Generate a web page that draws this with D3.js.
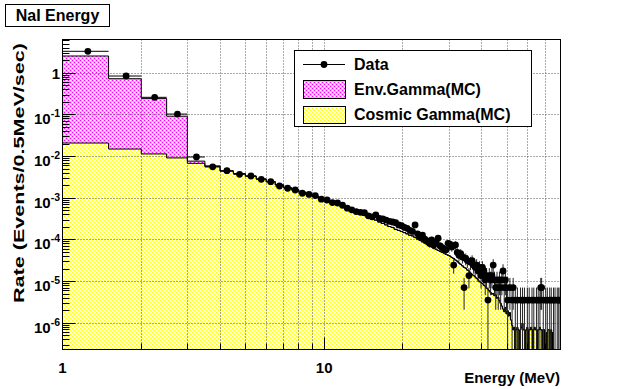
<!DOCTYPE html>
<html>
<head>
<meta charset="utf-8">
<script src="https://cdn.jsdelivr.net/npm/d3@7"></script>
<style>
body { margin: 0; background: #fff; }
svg text { font-family: "Liberation Sans", Arial, sans-serif; font-weight: bold; fill: #000; }
</style>
</head>
<body>
<div id="chart"></div>
<script>
// 0.5 MeV bins from 1 MeV up to 80 MeV
var binStart = 1;
var binWidth = 0.5;
var rateUnit = 3.6e-6; // rate of one counted event in a bin

var dataRate = [
    3.37, 0.86, 0.265, 0.105, 0.0098, 0.0057, 0.0046, 0.00377, 0.00343, 0.00286,
    0.0025, 0.00197, 0.00174, 0.00158, 0.00132, 0.00124, 0.00116, 0.00095, 0.00091, 0.00079,
    0.00077, 0.00068, 0.00058, 0.00053, 0.00048, 0.00046, 0.00045, 0.00038, 0.00036, 0.00040,
    0.00033, 0.00032, 0.00030, 0.00028, 0.00027, 0.00026, 0.00023, 0.00022, 0.00020, 0.00019,
    0.00017, 0.00016, 0.00023, 0.00014, 0.00012, 0.00013, 1.05e-4, 9.5e-5, 8.3e-5, 1.0e-4,
    7.6e-5, 8.8e-5, 1.1e-4, 7.2e-5, 6.5e-5, 6.0e-5, 5.8e-5, 8.3e-5, 7.9e-5, 6.8e-5,
    2.5e-5, 7.6e-5, 5.0e-5, 4.3e-5, 4.7e-5, 3.9e-5, 7.2e-6, 3.6e-5, 3.2e-5, 1.4e-5,
    2.9e-5, 3.2e-5, 2.5e-5, 2.2e-5, 2.5e-5, 1.8e-5, 2.2e-5, 1.4e-5, 2.2e-5, 1.8e-5,
    1.1e-5, 1.4e-5, 3.6e-6, 1.4e-5, 1.1e-5, 1.4e-5, 2.5e-5, 1.1e-5, 7.2e-6, 1.1e-5,
    7.2e-6, 1.1e-5, 7.2e-6, 1.1e-5, 1.8e-5, 7.2e-6, 1.1e-5, 7.2e-6, 3.6e-6, 0,
    7.2e-6, 0, 3.6e-6, 7.2e-6, 0, 3.6e-6, 0, 3.6e-6, 0, 0,
    3.6e-6, 0, 3.6e-6, 0, 3.6e-6, 0, 0, 3.6e-6, 0, 3.6e-6,
    0, 0, 3.6e-6, 0, 3.6e-6, 0, 0, 3.6e-6, 0, 3.6e-6,
    0, 3.6e-6, 7.2e-6, 7.2e-6, 0, 3.6e-6, 0, 0, 3.6e-6, 0,
    3.6e-6, 0, 0, 3.6e-6, 0, 3.6e-6, 0, 0, 3.6e-6, 0,
    3.6e-6, 0, 0, 3.6e-6, 0, 3.6e-6, 0, 3.6e-6
];

var envGamma = [2.58, 0.725, 0.238, 0.084, 0.0009, 0.0003];

var cosmicGamma = [
    0.0212, 0.0152, 0.0116, 0.0093, 0.0069, 0.0057, 0.0045, 0.0039, 0.0034, 0.0029,
    0.0025, 0.0021, 0.0018, 0.0016, 0.0014, 0.00125, 0.00112, 0.00098, 0.00088, 0.00080,
    0.00072, 0.00065, 0.00058, 0.00052, 0.00047, 0.00043, 0.00039, 0.00035, 0.00032, 0.00030,
    0.00027, 0.00025, 0.00023, 0.00021, 0.00020, 0.00018, 0.00017, 0.00016, 0.00015, 0.00014,
    0.00013, 1.25e-4, 1.15e-4, 1.05e-4, 9.8e-5, 9.0e-5, 8.4e-5, 7.8e-5, 7.2e-5, 6.8e-5,
    6.3e-5, 6.0e-5, 5.6e-5, 5.3e-5, 5.0e-5, 4.8e-5, 4.5e-5, 4.3e-5, 4.1e-5, 3.8e-5,
    3.6e-5, 3.3e-5, 3.1e-5, 2.8e-5, 2.6e-5, 2.4e-5, 2.2e-5, 2.1e-5, 1.9e-5, 1.8e-5,
    1.6e-5, 1.5e-5, 1.4e-5, 1.3e-5, 1.2e-5, 1.1e-5, 1.0e-5, 9.5e-6, 9.0e-6, 8.2e-6,
    7.8e-6, 7.0e-6, 6.6e-6, 6.0e-6, 5.5e-6, 5.0e-6, 5.2e-6, 4.6e-6, 4.8e-6, 4.0e-6,
    4.2e-6, 3.5e-6, 3.0e-6, 2.6e-6, 2.2e-6, 1.9e-6, 2.4e-6, 1.7e-6, 2.0e-6, 1.5e-6,
    1.8e-6, 1.2e-6, 9e-7, 7e-7, 8e-7, 0, 7e-7, 8e-7, 7e-7, 0,
    7e-7, 8e-7, 1.0e-6, 7e-7, 7e-7, 0, 7e-7, 8e-7, 0, 7e-7,
    7e-7, 8e-7, 7e-7, 0, 7e-7, 8e-7, 7e-7, 7e-7, 0, 7e-7,
    7e-7, 8e-7, 7e-7, 7e-7, 0, 7e-7, 7e-7, 0, 0, 6e-7,
    0, 7e-7, 7e-7, 0, 6e-7, 7e-7, 0, 6e-7, 0, 0,
    0, 0, 0, 0, 0, 0, 0, 0
];

var xTickLabels = [1, 10];
var yTickLabels = [["1", ""], ["10", "-1"], ["10", "-2"], ["10", "-3"], ["10", "-4"], ["10", "-5"], ["10", "-6"]];
var yTickValues = [1, 1e-1, 1e-2, 1e-3, 1e-4, 1e-5, 1e-6];
var legendNames = ["Data", "Env.Gamma(MC)", "Cosmic Gamma(MC)"];

window.onload = function () {
    var width = 623, height = 389;
    var fLeft = 62.5, fRight = 560.5, fTop = 39.5, fBottom = 349.5;

    var x = d3.scaleLog().domain([1, 80]).range([fLeft, fRight]);
    var y = d3.scaleLog().domain([2.35e-7, 6.47]).range([fBottom, fTop]).clamp(true);

    function yv(v) {
        return v > 0 ? y(v) : fBottom;
    }
    function edge(i) {
        return binStart + binWidth * i;
    }
    function px(v) {
        return Math.round(v - 0.5) + 0.5;
    }

    var svg = d3.select("#chart").append("svg")
        .attr("width", width)
        .attr("height", height);

    svg.append("rect").attr("width", width).attr("height", height).attr("fill", "#fff");

    // dotted fill patterns (ROOT style): pale base, strong dots, white specks
    var defs = svg.append("defs");
    function makePattern(id, base, dot) {
        var p = defs.append("pattern")
            .attr("id", id)
            .attr("patternUnits", "userSpaceOnUse")
            .attr("width", 4)
            .attr("height", 4);
        p.append("rect").attr("width", 4).attr("height", 4).attr("fill", base);
        [[0, 0, dot], [2, 2, dot], [2, 0, "#fff"], [0, 2, "#fff"]].forEach(function (c) {
            p.append("rect").attr("x", c[0]).attr("y", c[1]).attr("width", 1).attr("height", 1).attr("fill", c[2]);
        });
    }
    makePattern("magentaFill", "#f8a8f8", "#ff00ff");
    makePattern("yellowFill", "#ffffa8", "#ffff00");

    defs.append("clipPath").attr("id", "frameClip")
        .append("rect")
        .attr("x", fLeft).attr("y", fTop)
        .attr("width", fRight - fLeft).attr("height", fBottom - fTop);

    var plot = svg.append("g").attr("clip-path", "url(#frameClip)");

    // stack: total = env + cosmic
    var totalRate = cosmicGamma.map(function (c, i) {
        return c + (envGamma[i] || 0);
    });

    function stepPoints(values) {
        var pts = values.map(function (v, i) {
            return { e: edge(i), v: v };
        });
        pts.push({ e: edge(values.length), v: values[values.length - 1] });
        return pts;
    }

    var area = d3.area()
        .curve(d3.curveStepAfter)
        .x(function (d) { return x(d.e); })
        .y0(fBottom)
        .y1(function (d) { return yv(d.v); });

    var outline = d3.line()
        .curve(d3.curveStepAfter)
        .x(function (d) { return x(d.e); })
        .y(function (d) { return yv(d.v); });

    plot.append("path").attr("d", area(stepPoints(totalRate))).attr("fill", "url(#magentaFill)");
    plot.append("path").attr("d", area(stepPoints(cosmicGamma))).attr("fill", "url(#yellowFill)");

    // grid
    var xGrid = [2, 3, 4, 5, 6, 7, 8, 9, 10, 20, 30, 40, 50, 60, 70];
    plot.selectAll(".vgrid").data(xGrid).enter().append("line")
        .attr("x1", function (d) { return px(x(d)); })
        .attr("x2", function (d) { return px(x(d)); })
        .attr("y1", fTop).attr("y2", fBottom)
        .attr("stroke", "#555").attr("stroke-dasharray", "1,2");
    plot.selectAll(".hgrid").data(yTickValues).enter().append("line")
        .attr("x1", fLeft).attr("x2", fRight)
        .attr("y1", function (d) { return px(y(d)); })
        .attr("y2", function (d) { return px(y(d)); })
        .attr("stroke", "#555").attr("stroke-dasharray", "1,2");

    plot.append("path").attr("d", outline(stepPoints(totalRate)))
        .attr("fill", "none").attr("stroke", "#000").attr("stroke-width", 1);
    plot.append("path").attr("d", outline(stepPoints(cosmicGamma)))
        .attr("fill", "none").attr("stroke", "#000").attr("stroke-width", 1);

    // data points with errors
    var dataPts = [];
    dataRate.forEach(function (v, i) {
        if (v > 0) {
            dataPts.push({ lo: edge(i), hi: edge(i + 1), mid: edge(i) + binWidth / 2, v: v, err: Math.sqrt(v * rateUnit) });
        }
    });

    var pts = plot.append("g");
    pts.selectAll(".xerr").data(dataPts).enter().append("line")
        .attr("x1", function (d) { return x(d.lo); })
        .attr("x2", function (d) { return x(d.hi); })
        .attr("y1", function (d) { return y(d.v); })
        .attr("y2", function (d) { return y(d.v); })
        .attr("stroke", "#000");
    pts.selectAll(".yerr").data(dataPts).enter().append("line")
        .attr("x1", function (d) { return x(d.mid); })
        .attr("x2", function (d) { return x(d.mid); })
        .attr("y1", function (d) { return y(d.v + d.err); })
        .attr("y2", function (d) { return d.v - d.err > 0 ? y(d.v - d.err) : fBottom; })
        .attr("stroke", "#222");
    pts.selectAll("circle").data(dataPts).enter().append("circle")
        .attr("cx", function (d) { return x(d.mid); })
        .attr("cy", function (d) { return y(d.v); })
        .attr("r", 3.4)
        .attr("fill", "#000");

    // frame
    svg.append("rect")
        .attr("x", fLeft).attr("y", fTop)
        .attr("width", fRight - fLeft).attr("height", fBottom - fTop)
        .attr("fill", "none").attr("stroke", "#000");

    // ticks
    svg.selectAll(".ytick").data(y.ticks()).enter().append("line")
        .attr("x1", fLeft)
        .attr("x2", function (d) { return yTickValues.indexOf(d) >= 0 ? fLeft + 13 : fLeft + 7; })
        .attr("y1", function (d) { return px(y(d)); })
        .attr("y2", function (d) { return px(y(d)); })
        .attr("stroke", "#000");
    svg.selectAll(".xtick").data(x.ticks()).enter().append("line")
        .attr("x1", function (d) { return px(x(d)); })
        .attr("x2", function (d) { return px(x(d)); })
        .attr("y1", fBottom)
        .attr("y2", function (d) { return d == 10 ? fBottom - 12 : fBottom - 6; })
        .attr("stroke", "#000");

    // tick labels
    svg.selectAll(".xlab").data(xTickLabels).enter().append("text")
        .attr("x", function (d) { return x(d); })
        .attr("y", 373)
        .attr("text-anchor", "middle")
        .attr("font-size", 15)
        .text(function (d) { return d; });

    var ylab = svg.selectAll(".ylab").data(yTickLabels).enter().append("text")
        .attr("x", 60)
        .attr("y", function (d, i) { return y(yTickValues[i]) + (d[1] ? 9.5 : 5.5); })
        .attr("text-anchor", "end")
        .attr("font-size", 15);
    ylab.append("tspan").text(function (d) { return d[0]; });
    ylab.append("tspan").attr("dy", -7).attr("font-size", 10.5).text(function (d) { return d[1]; });

    // axis titles
    svg.append("text")
        .attr("x", 560).attr("y", 383)
        .attr("text-anchor", "end")
        .attr("font-size", 15)
        .text("Energy (MeV)");
    svg.append("text")
        .attr("transform", "translate(24,43) rotate(-90)")
        .attr("text-anchor", "end")
        .attr("font-size", 15.5)
        .attr("textLength", 260)
        .attr("lengthAdjust", "spacingAndGlyphs")
        .text("Rate (Events/0.5MeV/sec)");

    // title box
    svg.append("rect")
        .attr("x", 5.5).attr("y", 4.5).attr("width", 104).attr("height", 22)
        .attr("fill", "#fff").attr("stroke", "#000");
    svg.append("text")
        .attr("x", 57.5).attr("y", 21)
        .attr("text-anchor", "middle")
        .attr("font-size", 16)
        .text("NaI Energy");

    // legend
    var lg = svg.append("g");
    lg.append("rect")
        .attr("x", 294.5).attr("y", 50.5).attr("width", 237).attr("height", 76)
        .attr("fill", "#fff").attr("stroke", "#000");
    lg.append("line").attr("x1", 303).attr("x2", 345).attr("y1", 64.5).attr("y2", 64.5).attr("stroke", "#000");
    lg.append("circle").attr("cx", 324).attr("cy", 64.5).attr("r", 3.4).attr("fill", "#000");
    lg.append("rect").attr("x", 303.5).attr("y", 80.5).attr("width", 42).attr("height", 18)
        .attr("fill", "url(#magentaFill)").attr("stroke", "#000");
    lg.append("rect").attr("x", 303.5).attr("y", 106.5).attr("width", 42).attr("height", 17)
        .attr("fill", "url(#yellowFill)").attr("stroke", "#000");
    lg.selectAll(".ltext").data(legendNames).enter().append("text")
        .attr("x", 354)
        .attr("y", function (d, i) { return [70, 95, 120][i]; })
        .attr("font-size", 16)
        .text(function (d) { return d; });
};
</script>
</body>
</html>
